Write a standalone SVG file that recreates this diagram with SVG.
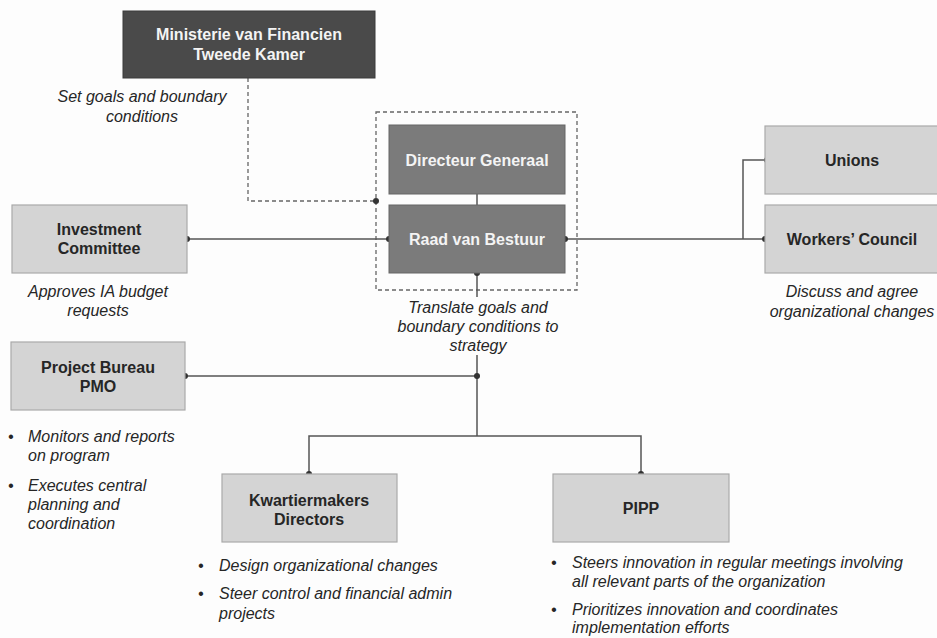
<svg xmlns="http://www.w3.org/2000/svg" width="937" height="638" viewBox="0 0 937 638">
<style>
.lbl{font-family:"Liberation Sans",Arial,sans-serif;font-size:16px;font-weight:bold;text-anchor:middle}
.w{fill:#f4f4f4}
.d{fill:#262626}
.it{font-family:"Liberation Sans",Arial,sans-serif;font-size:16px;font-style:italic;fill:#262626}
.c{text-anchor:middle}
.dark{fill:#4a4a4a;stroke:#3a3a3a;stroke-width:1}
.mid{fill:#7b7b7b;stroke:#666;stroke-width:1}
.light{fill:#d4d4d4;stroke:#aaa;stroke-width:1.2}
.ln{fill:none;stroke:#555;stroke-width:1.5}
.dash{fill:none;stroke:#666;stroke-width:1.3;stroke-dasharray:4 3}
.dot{fill:#333}
</style>
<rect width="937" height="638" fill="#fdfdfd"/>

<g id="connectors">
  <rect class="dash" x="376" y="112" width="201" height="178"/>
  <polyline class="dash" points="248,78 248,201 376,201"/>
  <circle class="dot" cx="376" cy="201" r="3"/>
  <line class="ln" x1="477" y1="194" x2="477" y2="205"/>
  <line class="ln" x1="187" y1="239" x2="389" y2="239"/>
  <circle class="dot" cx="187" cy="239" r="3"/>
  <circle class="dot" cx="389" cy="239" r="3"/>
  <line class="ln" x1="565" y1="239" x2="765" y2="239"/>
  <circle class="dot" cx="565" cy="239" r="3"/>
  <circle class="dot" cx="765" cy="239" r="3"/>
  <polyline class="ln" points="743,239 743,160 767,160"/>
  <circle class="dot" cx="767" cy="160" r="3"/>
  <line class="ln" x1="477" y1="273" x2="477" y2="297"/>
  <circle class="dot" cx="477" cy="273" r="3"/>
  <line class="ln" x1="477" y1="355" x2="477" y2="436"/>
  <line class="ln" x1="185" y1="376" x2="477" y2="376"/>
  <circle class="dot" cx="185" cy="376" r="3"/>
  <circle class="dot" cx="477" cy="376" r="3"/>
  <polyline class="ln" points="309,474 309,436 641,436 641,474"/>
  <circle class="dot" cx="309" cy="474" r="3"/>
  <circle class="dot" cx="641" cy="474" r="3"/>
</g>

<g id="ministerie">
  <rect class="dark" x="123" y="11" width="252" height="67"/>
  <text class="lbl w" x="249" y="40">Ministerie van Financien</text>
  <text class="lbl w" x="249" y="60">Tweede Kamer</text>
  <text class="it c" x="142" y="102">Set goals and boundary</text>
  <text class="it c" x="142" y="122">conditions</text>
</g>

<g id="directeur">
  <rect class="mid" x="389" y="125" width="176" height="69"/>
  <text class="lbl w" x="477" y="166">Directeur Generaal</text>
</g>

<g id="raad">
  <rect class="mid" x="389" y="205" width="176" height="68"/>
  <text class="lbl w" x="477" y="245">Raad van Bestuur</text>
  <text class="it c" x="478" y="313">Translate goals and</text>
  <text class="it c" x="478" y="332">boundary conditions to</text>
  <text class="it c" x="478" y="351">strategy</text>
</g>

<g id="investment">
  <rect class="light" x="12" y="205" width="175" height="68"/>
  <text class="lbl d" x="99" y="235">Investment</text>
  <text class="lbl d" x="99" y="254">Committee</text>
  <text class="it c" x="98" y="297">Approves IA budget</text>
  <text class="it c" x="98" y="316">requests</text>
</g>

<g id="unions">
  <rect class="light" x="765" y="126" width="180" height="68"/>
  <text class="lbl d" x="852" y="166">Unions</text>
</g>

<g id="workers">
  <rect class="light" x="765" y="205" width="180" height="68"/>
  <text class="lbl d" x="852" y="245">Workers’ Council</text>
  <text class="it c" x="852" y="297">Discuss and agree</text>
  <text class="it c" x="852" y="317">organizational changes</text>
</g>

<g id="pmo">
  <rect class="light" x="11" y="342" width="174" height="68"/>
  <text class="lbl d" x="98" y="373">Project Bureau</text>
  <text class="lbl d" x="98" y="392">PMO</text>
  <text class="it" x="8" y="442">•</text>
  <text class="it" x="28" y="442">Monitors and reports</text>
  <text class="it" x="28" y="461">on program</text>
  <text class="it" x="8" y="491">•</text>
  <text class="it" x="28" y="491">Executes central</text>
  <text class="it" x="28" y="510">planning and</text>
  <text class="it" x="28" y="529">coordination</text>
</g>

<g id="kwartiermakers">
  <rect class="light" x="222" y="474" width="175" height="68"/>
  <text class="lbl d" x="309" y="506">Kwartiermakers</text>
  <text class="lbl d" x="309" y="525">Directors</text>
  <text class="it" x="198" y="571">•</text>
  <text class="it" x="219" y="571">Design organizational changes</text>
  <text class="it" x="198" y="599">•</text>
  <text class="it" x="219" y="599">Steer control and financial admin</text>
  <text class="it" x="219" y="619">projects</text>
</g>

<g id="pipp">
  <rect class="light" x="553" y="474" width="176" height="68"/>
  <text class="lbl d" x="641" y="514">PIPP</text>
  <text class="it" x="551" y="568">•</text>
  <text class="it" x="572" y="568">Steers innovation in regular meetings involving</text>
  <text class="it" x="572" y="587">all relevant parts of the organization</text>
  <text class="it" x="551" y="615">•</text>
  <text class="it" x="572" y="615">Prioritizes innovation and coordinates</text>
  <text class="it" x="572" y="633">implementation efforts</text>
</g>
</svg>
